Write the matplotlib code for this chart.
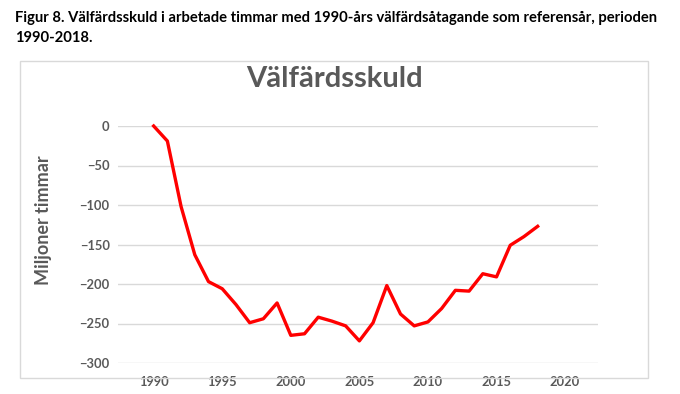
import matplotlib
matplotlib.use("Agg")
from matplotlib import pyplot as plt
from matplotlib.patches import Rectangle

years = list(range(1990, 2019))
debt = [0, -19, -102, -163, -197, -206, -226, -249, -244, -224,
        -265, -263, -242, -247, -253, -272, -249, -202, -238, -253,
        -248, -231, -208, -209, -187, -191, -151, -140, -127]

yticks = [0, -50, -100, -150, -200, -250, -300]
xticks = [1990, 1995, 2000, 2005, 2010, 2015, 2020]

caption = ("Figur 8. Välfärdsskuld i arbetade timmar med 1990-års välfärdsåtagande som referensår, perioden\n"
           "1990-2018.")

plt.rcParams['font.family'] = ['Lato', 'DejaVu Sans']
gray = "#595959"

fig = plt.figure(figsize=(6.8, 3.94), dpi=100)
# light frame around the chart area
fig.patches.append(Rectangle((20 / 680, 16 / 394), 628 / 680, 317 / 394,
                             transform=fig.transFigure, fill=False,
                             edgecolor="#d9d9d9", linewidth=1))

fig.text(15 / 680, 1 - 11 / 394, caption, ha="left", va="top",
         fontsize=10.6, fontweight="bold", color="black", linespacing=1.55)

ax = fig.add_axes([118 / 680, 31 / 394, 480 / 680, 237 / 394])
ax.plot(years, debt, color="#ff0000", linewidth=2.4, clip_on=False, zorder=3)
ax.set_xlim(1987.4, 2022.4)
ax.set_ylim(-300, 0)
ax.set_xticks(xticks)
ax.set_yticks(yticks)
ax.grid(axis="y", color="#d9d9d9", linewidth=1)
ax.set_axisbelow(True)
for s in ax.spines.values():
    s.set_visible(False)
ax.tick_params(length=0, colors=gray, labelsize=9.3)
ax.tick_params(axis="x", pad=9)
ax.tick_params(axis="y", pad=6)
for lab in ax.get_xticklabels() + ax.get_yticklabels():
    lab.set_fontweight("bold")

fig.text(334 / 680, 1 - 79 / 394, "Välfärdsskuld", ha="center", va="center",
         fontsize=21, fontweight="bold", color=gray)
fig.text(43 / 680, 1 - 220 / 394, "Miljoner timmar", ha="center", va="center",
         rotation=90, fontsize=13, fontweight="bold", color=gray)

fig.savefig("out.png", dpi=100)
plt.close(fig)
